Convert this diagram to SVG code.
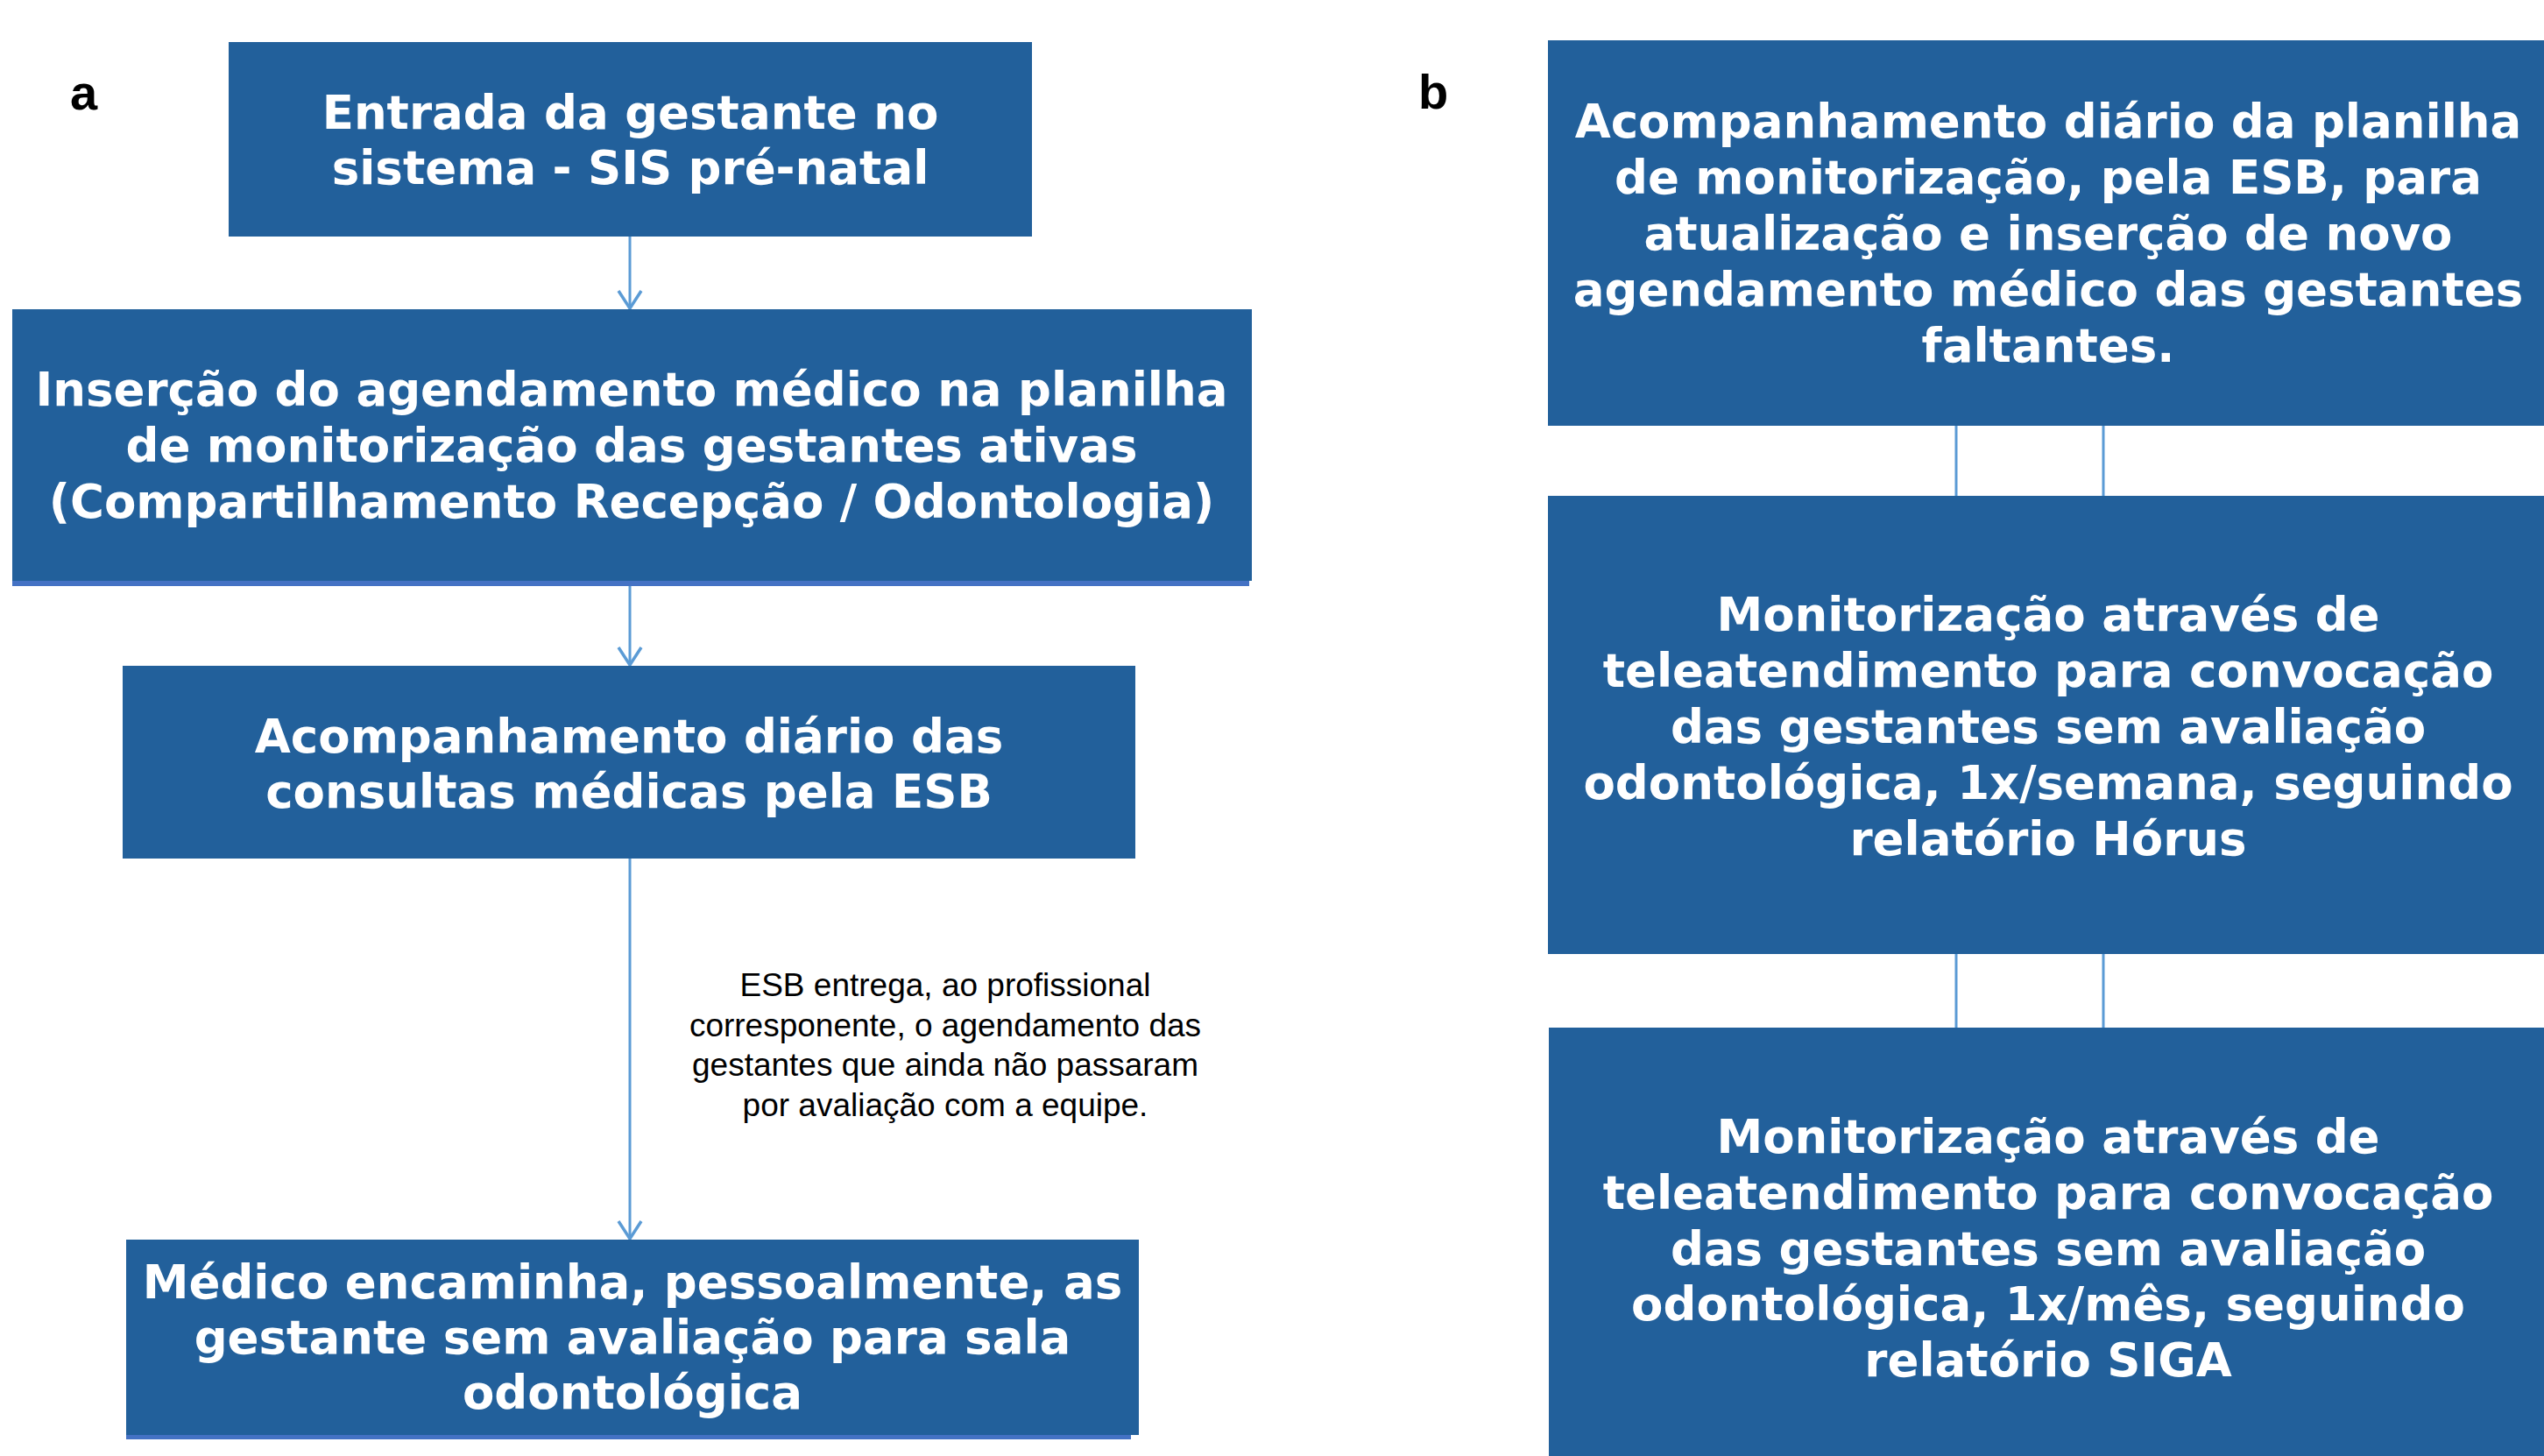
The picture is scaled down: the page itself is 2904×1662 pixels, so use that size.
<svg xmlns="http://www.w3.org/2000/svg" width="2904" height="1662" viewBox="0 0 2904 1662">
<defs>
<style>
.box{fill:#22609B;}
.bar{fill:#4472C4;}
.t{font-family:"DejaVu Sans",Verdana,sans-serif;font-weight:bold;font-size:53px;fill:#FFFFFF;text-anchor:middle;}
.lbl{font-family:"Liberation Sans",Arial,sans-serif;font-weight:bold;font-size:56px;fill:#000000;}
.note{font-family:"Liberation Sans",Arial,sans-serif;font-size:37px;fill:#000000;text-anchor:middle;}
.con{stroke:#5B9BD5;stroke-width:3;fill:none;}
</style>
<marker id="arr" viewBox="0 0 24 30" refX="22" refY="15" markerWidth="24" markerHeight="30" markerUnits="userSpaceOnUse" orient="auto">
<path d="M2,2 L22,15 L2,28" fill="none" stroke="#5B9BD5" stroke-width="3.5"/>
</marker>
</defs>
<rect width="2904" height="1662" fill="#FFFFFF"/>
<text class="lbl" x="80" y="125">a</text>
<text class="lbl" x="1619" y="124">b</text>
<g id="connectors">
<line class="con" x1="719" y1="270" x2="719" y2="352" marker-end="url(#arr)"/>
<line class="con" x1="719" y1="669" x2="719" y2="759" marker-end="url(#arr)"/>
<line class="con" x1="719" y1="980" x2="719" y2="1414" marker-end="url(#arr)"/>
<line class="con" x1="2233" y1="486" x2="2233" y2="566"/>
<line class="con" x1="2401" y1="486" x2="2401" y2="566"/>
<line class="con" x1="2233" y1="1089" x2="2233" y2="1173"/>
<line class="con" x1="2401" y1="1089" x2="2401" y2="1173"/>
</g>
<g id="node-a1">
<rect class="box" x="261" y="48" width="917" height="222"/>
<text class="t" x="719.5" y="147">Entrada da gestante no</text>
<text class="t" x="719.5" y="210">sistema - SIS pré-natal</text>
</g>
<g id="node-a2">
<rect class="bar" x="14" y="660" width="1412" height="9"/>
<rect class="box" x="14" y="353" width="1415" height="310"/>
<text class="t" x="721" y="463">Inserção do agendamento médico na planilha</text>
<text class="t" x="721" y="527">de monitorização das gestantes ativas</text>
<text class="t" x="721" y="591">(Compartilhamento Recepção / Odontologia)</text>
</g>
<g id="node-a3">
<rect class="box" x="140" y="760" width="1156" height="220"/>
<text class="t" x="718" y="859">Acompanhamento diário das</text>
<text class="t" x="718" y="922">consultas médicas pela ESB</text>
</g>
<g id="note">
<text class="note" x="1079" y="1137">ESB entrega, ao profissional</text>
<text class="note" x="1079" y="1183">corresponente, o agendamento das</text>
<text class="note" x="1079" y="1228">gestantes que ainda não passaram</text>
<text class="note" x="1079" y="1274">por avaliação com a equipe.</text>
</g>
<g id="node-a4">
<rect class="bar" x="144" y="1635" width="1147" height="8"/>
<rect class="box" x="144" y="1415" width="1156" height="223"/>
<text class="t" x="722" y="1482">Médico encaminha, pessoalmente, as</text>
<text class="t" x="722" y="1545">gestante sem avaliação para sala</text>
<text class="t" x="722" y="1608">odontológica</text>
</g>
<g id="node-b1">
<rect class="box" x="1767" y="46" width="1137" height="440"/>
<text class="t" x="2338" y="157">Acompanhamento diário da planilha</text>
<text class="t" x="2338" y="221">de monitorização, pela ESB, para</text>
<text class="t" x="2338" y="285">atualização e inserção de novo</text>
<text class="t" x="2338" y="349">agendamento médico das gestantes</text>
<text class="t" x="2338" y="413">faltantes.</text>
</g>
<g id="node-b2">
<rect class="box" x="1767" y="566" width="1137" height="523"/>
<text class="t" x="2338" y="720">Monitorização através de</text>
<text class="t" x="2338" y="784">teleatendimento para convocação</text>
<text class="t" x="2338" y="848">das gestantes sem avaliação</text>
<text class="t" x="2338" y="912">odontológica, 1x/semana, seguindo</text>
<text class="t" x="2338" y="976">relatório Hórus</text>
</g>
<g id="node-b3">
<rect class="box" x="1768" y="1173" width="1136" height="489"/>
<text class="t" x="2338" y="1316">Monitorização através de</text>
<text class="t" x="2338" y="1380">teleatendimento para convocação</text>
<text class="t" x="2338" y="1444">das gestantes sem avaliação</text>
<text class="t" x="2338" y="1507">odontológica, 1x/mês, seguindo</text>
<text class="t" x="2338" y="1571">relatório SIGA</text>
</g>
</svg>
